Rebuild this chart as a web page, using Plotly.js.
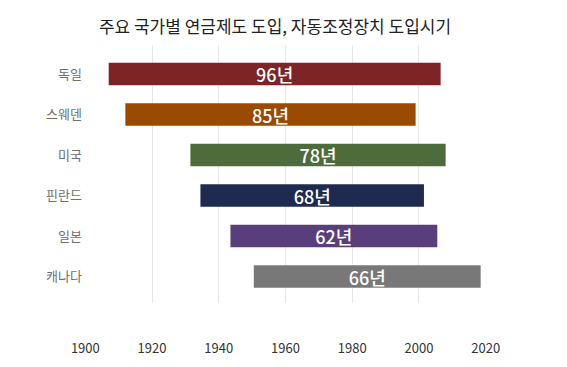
<!DOCTYPE html>
<html>
<head>
<meta charset="utf-8">
<script src="https://cdn.plot.ly/plotly-3.0.1.min.js"></script>
<style>html,body{margin:0;padding:0;background:#fff}#chart{width:567px;height:367px}</style>
</head>
<body>
<div id="chart"></div>
<script>
// Data
const countries = ["독일", "스웨덴", "미국", "핀란드", "일본", "캐나다"];
const startYears = [1907, 1912, 1931.5, 1934.5, 1943.5, 1950.5];
const endYears = [2006.5, 1999, 2008, 2001.5, 2005.5, 2018.5];
const durationLabels = ["96년", "85년", "78년", "68년", "62년", "66년"];
const barColors = ["#7e2326", "#9b4a02", "#4e6b3b", "#1f2a50", "#583f7c", "#787878"];
const tickYears = [1900, 1920, 1940, 1960, 1980, 2000, 2020];

const lengths = startYears.map((s, i) => endYears[i] - s);
const FONT = "'Noto Sans CJK KR', 'Noto Sans', sans-serif";

const trace = {
  type: "bar",
  orientation: "h",
  y: countries,
  x: lengths,
  base: startYears,
  width: 0.55,
  marker: { color: barColors, line: { width: 0 } },
  text: durationLabels,
  textposition: "inside",
  insidetextanchor: "middle",
  constraintext: "none",
  textangle: 0,
  textfont: { family: FONT, size: 18, color: "#ffffff", weight: 500 },
  hoverinfo: "skip"
};

const layout = {
  width: 567,
  height: 367,
  margin: { l: 84.5, r: 80.5, t: 45, b: 64 },
  paper_bgcolor: "#ffffff",
  plot_bgcolor: "#ffffff",
  showlegend: false,
  title: {
    text: "주요 국가별 연금제도 도입, 자동조정장치 도입시기",
    font: { family: FONT, size: 17, color: "#222222", weight: 400 },
    x: 0.485, xanchor: "center", xref: "container",
    y: 0.925, yanchor: "middle", yref: "container"
  },
  xaxis: {
    range: [1899.9, 2020.1],
    tickvals: tickYears,
    ticktext: tickYears.map(String),
    showgrid: true,
    gridcolor: "#e6e6e6",
    gridwidth: 1,
    zeroline: false,
    showline: false,
    ticks: "",
    ticklabelstandoff: 36,
    tickfont: { family: FONT, size: 13, color: "#333333" },
    fixedrange: true
  },
  yaxis: {
    type: "category",
    categoryorder: "array",
    categoryarray: countries,
    range: [5.654, -0.716],
    showgrid: false,
    zeroline: false,
    showline: false,
    ticks: "",
    ticklabelstandoff: 2,
    tickfont: { family: FONT, size: 13, color: "#707070" },
    fixedrange: true
  }
};

Plotly.newPlot("chart", [trace], layout, { displayModeBar: false, staticPlot: true });
</script>
</body>
</html>
